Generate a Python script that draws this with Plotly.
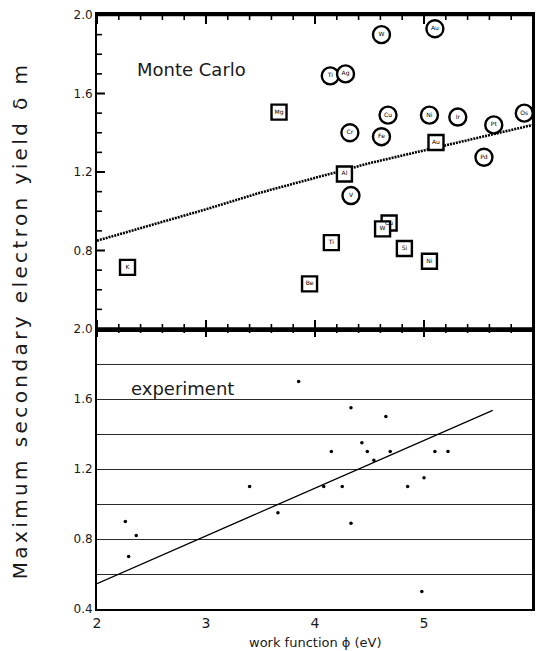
import plotly.graph_objects as go

# ---------------- data ----------------
# Monte Carlo, circle markers
mc_circ_x = [4.61, 5.10, 4.14, 4.28, 4.32, 4.67, 4.61, 5.05, 5.31, 5.64, 5.55, 5.92, 4.33]
mc_circ_y = [1.90, 1.93, 1.69, 1.70, 1.40, 1.49, 1.38, 1.49, 1.48, 1.44, 1.275, 1.50, 1.08]
mc_circ_lbl = ["W", "Au", "Ti", "Ag", "Cr", "Cu", "Fe", "Ni", "Ir", "Pt", "Pd", "Os", "V"]

# Monte Carlo, square markers
mc_sq_x = [2.28, 3.67, 3.95, 4.15, 4.27, 4.68, 4.62, 4.82, 5.05, 5.11]
mc_sq_y = [0.714, 1.505, 0.63, 0.84, 1.19, 0.94, 0.91, 0.81, 0.745, 1.35]
mc_sq_lbl = ["K", "Mg", "Be", "Ti", "Al", "Cu", "W", "Si", "Ni", "Au"]

# Monte Carlo fit (dotted)
mc_fit_x = [2.0, 2.5, 3.0, 3.5, 4.0, 4.5, 5.0, 5.5, 6.0]
mc_fit_y = [0.85, 0.93, 1.01, 1.095, 1.17, 1.245, 1.31, 1.375, 1.44]

# experiment points
exp_x = [2.26, 2.36, 2.29, 3.85, 3.40, 3.66, 4.08, 4.15, 4.25, 4.33, 4.33,
         4.43, 4.48, 4.54, 4.65, 4.69, 4.85, 5.00, 4.98, 5.10, 5.22]
exp_y = [0.90, 0.82, 0.70, 1.70, 1.10, 0.95, 1.10, 1.30, 1.10, 1.55, 0.89,
         1.35, 1.30, 1.25, 1.50, 1.30, 1.10, 1.15, 0.50, 1.30, 1.30]

# experiment fit (solid)
exp_fit_x = [2.0, 5.63]
exp_fit_y = [0.545, 1.535]

# tick positions
x_major = [2, 3, 4, 5, 6]
x_minor = [2.2, 2.4, 2.6, 2.8, 3.2, 3.4, 3.6, 3.8, 4.2, 4.4, 4.6, 4.8,
           5.2, 5.4, 5.6, 5.8]
y_major = [0.8, 1.2, 1.6]
y_minor = [0.5, 0.6, 0.7, 0.9, 1.0, 1.1, 1.3, 1.4, 1.5, 1.7, 1.8, 1.9]

FONT = "DejaVu Sans"
INK = "black"

fig = go.Figure()

# ---- top panel (Monte Carlo) ----
fig.add_trace(go.Scatter(
    x=mc_fit_x, y=mc_fit_y, mode="lines", xaxis="x2", yaxis="y2",
    line=dict(color=INK, width=2.6, dash="2px,1px"), hoverinfo="skip"))
fig.add_trace(go.Scatter(
    x=mc_sq_x, y=mc_sq_y, mode="markers+text", xaxis="x2", yaxis="y2",
    text=mc_sq_lbl, textposition="middle center",
    textfont=dict(family=FONT, size=6, color=INK),
    marker=dict(symbol="square", size=15, color="white",
                line=dict(color=INK, width=2.4))))
fig.add_trace(go.Scatter(
    x=mc_circ_x, y=mc_circ_y, mode="markers+text", xaxis="x2", yaxis="y2",
    text=mc_circ_lbl, textposition="middle center",
    textfont=dict(family=FONT, size=6, color=INK),
    marker=dict(symbol="circle", size=17, color="white",
                line=dict(color=INK, width=2.4))))

# ---- bottom panel (experiment) ----
fig.add_trace(go.Scatter(
    x=exp_fit_x, y=exp_fit_y, mode="lines", xaxis="x", yaxis="y",
    line=dict(color=INK, width=1.3), hoverinfo="skip"))
fig.add_trace(go.Scatter(
    x=exp_x, y=exp_y, mode="markers", xaxis="x", yaxis="y",
    marker=dict(size=3.5, color=INK)))

split = (609 - 329) / 594
TOP_H, BOT_H, W = 314.0, 280.0, 438.0   # panel sizes in px

# ---- frame and tick marks as shapes ----
shapes = []
def seg(xref, yref, x0, x1, y0, y1, w):
    shapes.append(dict(type="line", xref=xref, yref=yref, x0=x0, x1=x1,
                       y0=y0, y1=y1, layer="above",
                       line=dict(color=INK, width=w)))

# frames
seg("x2 domain", "y2 domain", 0, 1, 1, 1, 2.5)     # top edge
seg("x2 domain", "y2 domain", 1, 1, 0, 1, 2)       # right edge (top panel)
seg("x domain", "y domain", 1, 1, 0, 1, 2)         # right edge (bottom panel)
seg("x2 domain", "y2 domain", 0, 1, 0, 0, 3.5)     # panel boundary

for v, ln, w in [(v, 9, 2) for v in x_major] + [(v, 5, 1.6) for v in x_minor]:
    seg("x2", "y2 domain", v, v, 1, 1 - ln / TOP_H, w)      # top edge, down
    seg("x2", "y2 domain", v, v, 0, ln / TOP_H, w)          # boundary, up
    seg("x", "y domain", v, v, 1, 1 - (ln - 1) / BOT_H, w)  # boundary, down

for v, ln, w in [(v, 8, 2) for v in y_major] + [(v, 5, 1.6) for v in y_minor]:
    seg("x2 domain", "y2", 0, ln / W, v, v, w)

fig.update_layout(
    width=536, height=651,
    margin=dict(l=97, r=1, t=15, b=42),
    paper_bgcolor="white", plot_bgcolor="white",
    showlegend=False,
    font=dict(family=FONT, color="#1a1a1a"),
    shapes=shapes,
    # bottom panel
    xaxis=dict(domain=[0, 1], anchor="y", range=[2, 6],
               tick0=2, dtick=1, ticks="",
               tickfont=dict(size=14, color="#1a1a1a"),
               showline=True, linecolor=INK, linewidth=2,
               showgrid=False, zeroline=False),
    yaxis=dict(domain=[0, split], anchor="x", range=[0.4, 2.0],
               tick0=0.4, dtick=0.4, tickformat=".1f", ticks="",
               tickfont=dict(size=12, color="#1a1a1a"),
               showgrid=True, gridcolor="#2a2a2a", gridwidth=1.4,
               minor=dict(tick0=0.4, dtick=0.2, showgrid=True,
                          gridcolor="#2a2a2a", gridwidth=1.4),
               showline=True, linecolor=INK, linewidth=2, mirror=True,
               zeroline=False),
    # top panel
    xaxis2=dict(domain=[0, 1], anchor="y2", range=[2, 6],
                tick0=2, dtick=1, ticks="", showticklabels=False,
                showline=True, linecolor=INK, linewidth=3, mirror=True,
                showgrid=False, zeroline=False),
    yaxis2=dict(domain=[split, 1], anchor="x2", range=[0.4, 2.0],
                tick0=0.4, dtick=0.4, tickformat=".1f",
                labelalias={"0.4": " "}, ticks="",
                tickfont=dict(size=12, color="#1a1a1a"),
                showline=True, linecolor=INK, linewidth=2, mirror=True,
                showgrid=False, zeroline=False),
    annotations=[
        dict(text="Monte Carlo", x=2.345, y=1.72, xref="x2", yref="y2",
             xanchor="left", yanchor="middle", showarrow=False,
             font=dict(size=18, color="#1a1a1a", family=FONT)),
        dict(text="experiment", x=2.29, y=1.66, xref="x", yref="y",
             xanchor="left", yanchor="middle", showarrow=False,
             font=dict(size=18, color="#1a1a1a", family=FONT)),
        dict(text="work function ϕ (eV)", x=0.5, y=(609 - 642) / 594,
             xref="paper", yref="paper", xanchor="center", yanchor="middle",
             showarrow=False, font=dict(size=13, color="#1a1a1a", family=FONT)),
        dict(text='<span style="letter-spacing:3.4px">Maximum secondary electron yield δ m</span>',
             x=(20 - 97) / 438, y=(609 - 320) / 594, xref="paper", yref="paper",
             xanchor="center", yanchor="middle", textangle=-90,
             showarrow=False, font=dict(size=20, color="#1a1a1a", family=FONT)),
    ],
)

fig.write_html("out.html")
